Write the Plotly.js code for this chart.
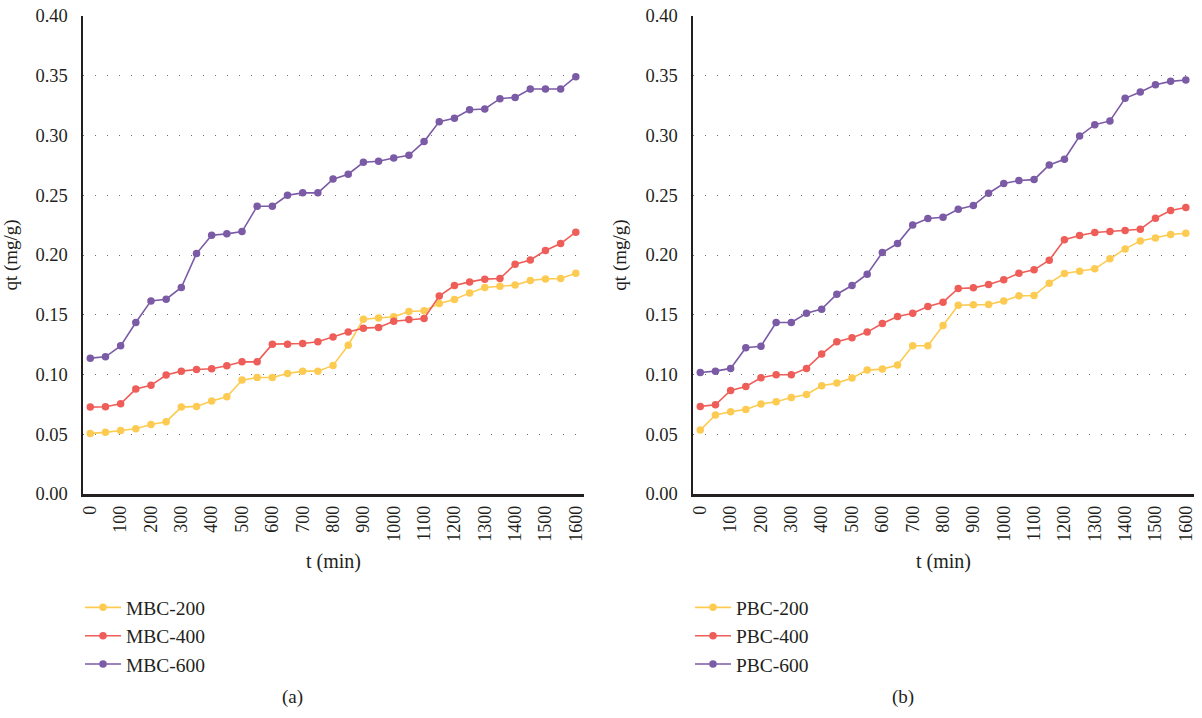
<!DOCTYPE html>
<html>
<head>
<meta charset="utf-8">
<script src="https://cdn.plot.ly/plotly-3.0.1.min.js"></script>
<style>
  html, body { margin: 0; padding: 0; background: #ffffff; }
  #chart { width: 1202px; height: 718px; }
</style>
</head>
<body>
<div id="chart"></div>
<script>
// time points (min)
const timeMin = [0, 50, 100, 150, 200, 250, 300, 350, 400, 450, 500, 550, 600, 650, 700, 750, 800,
                 850, 900, 950, 1000, 1050, 1100, 1150, 1200, 1250, 1300, 1350, 1400, 1450, 1500, 1550, 1600];

// Panel (a)
const mbc200 = [0.0507, 0.0516, 0.0532, 0.0546, 0.0582, 0.0605, 0.0727, 0.0733, 0.0778, 0.0814, 0.0953,
                0.0975, 0.0975, 0.1009, 0.1028, 0.1028, 0.1076, 0.1245, 0.1463, 0.1472, 0.1483, 0.1527,
                0.1533, 0.1594, 0.1628, 0.1683, 0.1728, 0.1739, 0.1748, 0.1787, 0.1800, 0.1803, 0.1848];
const mbc400 = [0.0727, 0.0730, 0.0755, 0.0878, 0.0909, 0.0995, 0.1028, 0.1042, 0.1048, 0.1073, 0.1106,
                0.1106, 0.1254, 0.1254, 0.1260, 0.1274, 0.1313, 0.1356, 0.1388, 0.1394, 0.1446, 0.1460,
                0.1469, 0.1656, 0.1745, 0.1775, 0.1798, 0.1803, 0.1923, 0.1959, 0.2037, 0.2096, 0.2191];
const mbc600 = [0.1137, 0.1148, 0.1240, 0.1435, 0.1616, 0.1630, 0.1728, 0.2012, 0.2166, 0.2177, 0.2196,
                0.2408, 0.2408, 0.2500, 0.2520, 0.2520, 0.2635, 0.2676, 0.2776, 0.2784, 0.2812, 0.2834,
                0.2949, 0.3116, 0.3144, 0.3216, 0.3222, 0.3308, 0.3319, 0.3389, 0.3389, 0.3389, 0.3492];

// Panel (b)
const pbc200 = [0.0535, 0.0661, 0.0688, 0.0708, 0.0753, 0.0772, 0.0808, 0.0833, 0.0906, 0.0928, 0.0970,
                0.1037, 0.1045, 0.1079, 0.1240, 0.1240, 0.1410, 0.1580, 0.1583, 0.1586, 0.1616, 0.1658,
                0.1661, 0.1764, 0.1845, 0.1865, 0.1884, 0.1968, 0.2051, 0.2118, 0.2143, 0.2171, 0.2182];
const pbc400 = [0.0733, 0.0747, 0.0867, 0.0900, 0.0973, 0.0998, 0.0998, 0.1051, 0.1171, 0.1274, 0.1307,
                0.1355, 0.1427, 0.1486, 0.1513, 0.1569, 0.1605, 0.1720, 0.1725, 0.1753, 0.1792, 0.1848,
                0.1876, 0.1957, 0.2127, 0.2163, 0.2188, 0.2196, 0.2205, 0.2216, 0.2308, 0.2372, 0.2397];
const pbc600 = [0.1017, 0.1028, 0.1051, 0.1224, 0.1237, 0.1435, 0.1435, 0.1513, 0.1547, 0.1672, 0.1745,
                0.1839, 0.2021, 0.2096, 0.2252, 0.2305, 0.2316, 0.2383, 0.2414, 0.2517, 0.2598, 0.2623,
                0.2631, 0.2754, 0.2801, 0.2996, 0.3091, 0.3122, 0.3311, 0.3364, 0.3425, 0.3453, 0.3464];

const namesA = ["MBC-200", "MBC-400", "MBC-600"];
const namesB = ["PBC-200", "PBC-400", "PBC-600"];
const colors = ["#FDCB52", "#EE5D58", "#7B5AA6"];
const xTickVals = [0, 100, 200, 300, 400, 500, 600, 700, 800, 900, 1000, 1100, 1200, 1300, 1400, 1500, 1600];
const yTickVals = [0, 0.05, 0.10, 0.15, 0.20, 0.25, 0.30, 0.35, 0.40];
const yTickText = ["0.00", "0.05", "0.10", "0.15", "0.20", "0.25", "0.30", "0.35", "0.40"];

const FONT = "Liberation Serif, Times New Roman, serif";
const INK = "#231f20";

function mk(y, name, color, xa, ya, legend) {
  return {
    type: "scatter", mode: "lines+markers", x: timeMin, y: y, name: name,
    xaxis: xa, yaxis: ya, legend: legend,
    line: { color: color, width: 1.6 },
    marker: { color: color, size: 7.5 },
    hoverinfo: "x+y"
  };
}

const data = [
  mk(mbc200, namesA[0], colors[0], "x", "y", "legend"),
  mk(mbc400, namesA[1], colors[1], "x", "y", "legend"),
  mk(mbc600, namesA[2], colors[2], "x", "y", "legend"),
  mk(pbc200, namesB[0], colors[0], "x2", "y2", "legend2"),
  mk(pbc400, namesB[1], colors[1], "x2", "y2", "legend2"),
  mk(pbc600, namesB[2], colors[2], "x2", "y2", "legend2")
];

function xAxis(domain, anchor) {
  return {
    domain: domain, anchor: anchor, range: [-24, 1627], type: "linear",
    tickmode: "array", tickvals: xTickVals, ticktext: xTickVals.map(String),
    tickangle: -90, ticks: "", showgrid: false, zeroline: false,
    showline: true, linecolor: INK, linewidth: 2.5,
    tickfont: { family: FONT, size: 18, color: INK },
    ticklabelstandoff: 2,
    title: { text: "t (min)", font: { family: FONT, size: 20, color: INK }, standoff: 14 }
  };
}
function yAxis(anchor) {
  return {
    domain: [0, 1], anchor: anchor, range: [0, 0.4],
    tickmode: "array", tickvals: yTickVals, ticktext: yTickText,
    ticks: "", showgrid: true, gridcolor: "#6d6d6d", gridwidth: 1, griddash: "1px,11px",
    zeroline: false, showline: true, linecolor: INK, linewidth: 2.5,
    tickfont: { family: FONT, size: 18.5, color: INK },
    ticklabelstandoff: 9,
    title: { text: "qt (mg/g)", font: { family: FONT, size: 19, color: INK }, standoff: 14 }
  };
}

const legendBase = {
  orientation: "v", xanchor: "left", yanchor: "top",
  font: { family: FONT, size: 19.5, color: INK },
  bgcolor: "rgba(0,0,0,0)", borderwidth: 0, itemwidth: 36,
  tracegroupgap: 0
};

const layout = {
  width: 1202, height: 718,
  margin: { l: 0, r: 0, t: 16, b: 224, pad: 0 },
  paper_bgcolor: "#ffffff", plot_bgcolor: "#ffffff",
  showlegend: true,
  xaxis: xAxis([83 / 1202, 584 / 1202], "y"),
  yaxis: yAxis("x"),
  xaxis2: xAxis([693 / 1202, 1194 / 1202], "y2"),
  yaxis2: yAxis("x2"),
  legend: Object.assign({}, legendBase, { x: 80 / 1202, y: -0.197 }),
  legend2: Object.assign({}, legendBase, { x: 690 / 1202, y: -0.197 }),
  annotations: [
    { text: "(a)", xref: "paper", yref: "paper", x: 292 / 1202, y: (494 - 697) / 478,
      xanchor: "center", yanchor: "middle", showarrow: false,
      font: { family: FONT, size: 19, color: INK } },
    { text: "(b)", xref: "paper", yref: "paper", x: 903 / 1202, y: (494 - 697) / 478,
      xanchor: "center", yanchor: "middle", showarrow: false,
      font: { family: FONT, size: 19, color: INK } }
  ]
};

Plotly.newPlot("chart", data, layout, { displayModeBar: false, staticPlot: true });
</script>
</body>
</html>
